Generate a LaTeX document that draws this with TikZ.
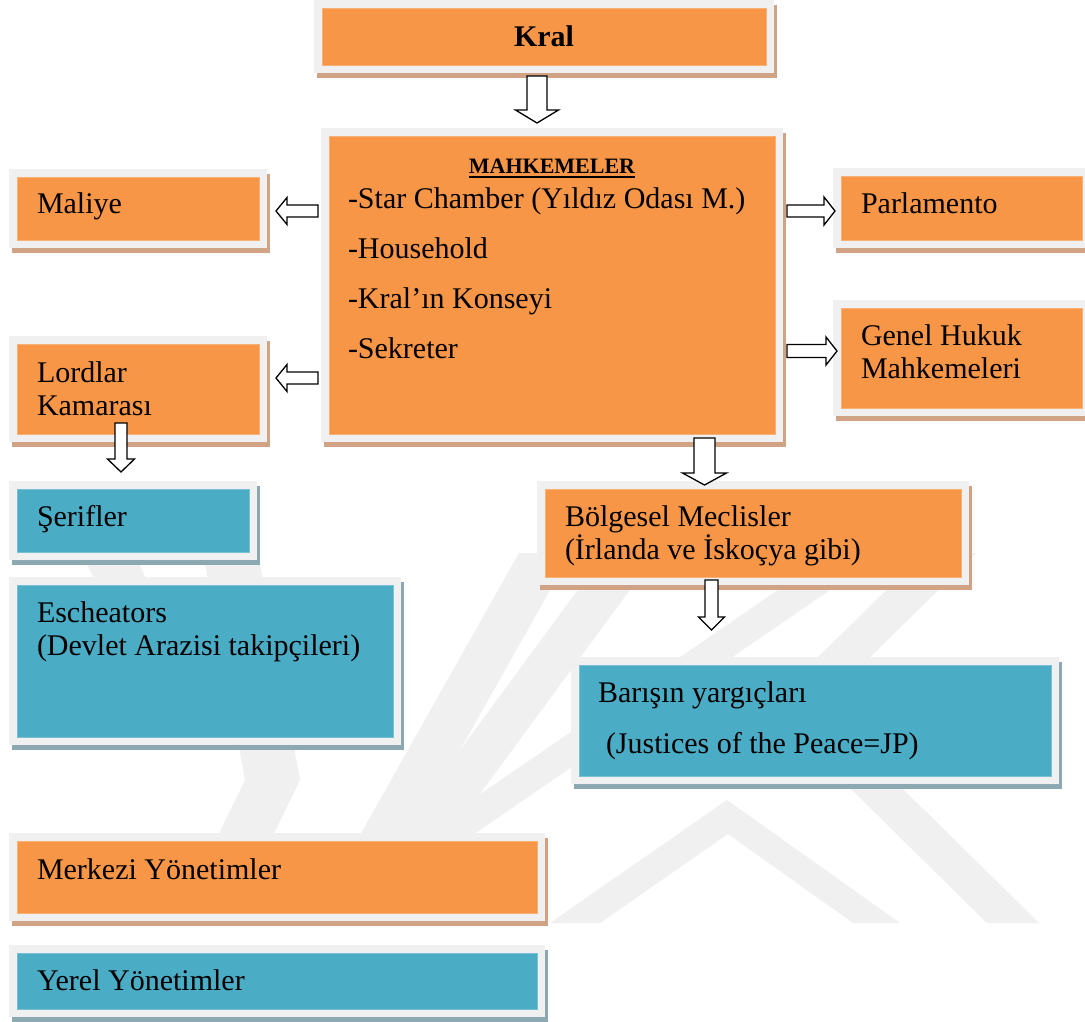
\documentclass[tikz,border=0pt]{standalone}
\usepackage{fontspec}
\setmainfont{Liberation Serif}
\usetikzlibrary{calc}
\definecolor{orfill}{HTML}{F79646}
\definecolor{blfill}{HTML}{4BACC6}
\definecolor{ringc}{HTML}{F0F0F0}
\definecolor{orshad}{HTML}{D0A384}
\definecolor{blshad}{HTML}{8CA8B1}
\definecolor{wmc}{HTML}{F0F0F0}
\newcommand\bxfont{\fontsize{30}{33}\selectfont}
\newcommand\wmband[4]{\fill[wmc] ({#1-26},#2) -- ({#1+26},#2) -- ({#3+26},#4) -- ({#3-26},#4) -- cycle;}
\tikzset{
  boxbase/.style={rectangle, inner sep=0pt, outer sep=0pt, line width=1pt},
  obox/.style={boxbase, fill=orfill, draw=orfill!75!white,
    preaction={fill=orshad, draw=orshad, line width=16pt, transform canvas={shift={(3pt,-5pt)}}},
    preaction={draw=ringc, line width=16pt}},
  bbox/.style={boxbase, fill=blfill, draw=blfill!75!white,
    preaction={fill=blshad, draw=blshad, line width=16pt, transform canvas={shift={(3pt,-5pt)}}},
    preaction={draw=ringc, line width=16pt}},
  txt/.style={inner sep=0pt, outer sep=0pt, anchor=base west, font=\bxfont, text=black},
  arr/.style={draw=black, fill=white, line width=1.3pt, line join=miter},
  blk/.style n args={3}{to path={
    let \p1=(\tikztostart), \p2=(\tikztotarget),
        \n1={atan2(\y2-\y1,\x2-\x1)}, \n2={veclen(\x2-\x1,\y2-\y1)} in
    ([shift={(\p1)},rotate=\n1]0pt,{-#1*1pt})
    -- ([shift={(\p1)},rotate=\n1]{\n2*1pt-#3*1pt},{-#1*1pt})
    -- ([shift={(\p1)},rotate=\n1]{\n2*1pt-#3*1pt},{-#2*1pt})
    -- ([shift={(\p1)},rotate=\n1]{\n2*1pt},0pt)
    -- ([shift={(\p1)},rotate=\n1]{\n2*1pt-#3*1pt},{#2*1pt})
    -- ([shift={(\p1)},rotate=\n1]{\n2*1pt-#3*1pt},{#1*1pt})
    -- ([shift={(\p1)},rotate=\n1]0pt,{#1*1pt})
    -- cycle}},
}
\begin{document}
\begin{tikzpicture}[x=1pt,y=-1pt]
\useasboundingbox (0,0) rectangle (1085,1021);
\fill[white] (0,0) rectangle (1085,1021);
% faint watermark
\begin{scope}
  \clip (0,553) rectangle (1085,923);
  \wmband{108}{553}{130}{600}
  \fill[wmc] (203,553) -- (258,553) -- (300,780) -- (266,850) -- (211,850) -- (245,780) -- cycle;
  \wmband{545}{553}{372}{860}
  \wmband{631}{553}{420}{840}
  \wmband{858}{553}{448}{834}
  \wmband{950}{553}{780}{720}
  \fill[wmc] (727,800) -- (900,923) -- (853,923) -- (728,834) -- (600,923) -- (550,923) -- cycle;
  \wmband{820}{733}{1013}{923}
\end{scope}
% boxes
\node[obox, minimum width=444pt, minimum height=57pt, font=\bxfont\bfseries] (kral) at (544,36.5) {Kral};
\node[obox, minimum width=446pt, minimum height=298pt] (mahk) at (552,285) {};
\node[obox, minimum width=242pt, minimum height=63pt] (maliye) at (138,208.5) {};
\node[obox, minimum width=242pt, minimum height=90pt] (lordlar) at (138,389) {};
\node[obox, minimum width=241pt, minimum height=64pt] (parl) at (961.5,208) {};
\node[obox, minimum width=241pt, minimum height=100pt] (genel) at (961.5,358) {};
\node[bbox, minimum width=232pt, minimum height=63pt] (serif) at (133,520.5) {};
\node[bbox, minimum width=376pt, minimum height=152pt] (esch) at (205,661) {};
\node[obox, minimum width=416pt, minimum height=88pt] (bolg) at (753,533) {};
\node[bbox, minimum width=472pt, minimum height=111pt] (baris) at (815,720.5) {};
\node[obox, minimum width=520pt, minimum height=72pt] (merk) at (277,877) {};
\node[bbox, minimum width=520pt, minimum height=56pt] (yerel) at (277,981) {};
% texts
\node[txt, anchor=base, font=\fontsize{22}{24}\selectfont\bfseries] (mahkhead) at (552,173)
  {\setbox0\hbox{MAHKEMELER}\rlap{\rule[-5pt]{\wd0}{1.8pt}}\box0};
\node[txt] (mahk1) at (348,208) {-Star Chamber (Yıldız Odası M.)};
\node[txt] (mahk2) at (348,258) {-Household};
\node[txt] (mahk3) at (348,308) {-Kral’ın Konseyi};
\node[txt] (mahk4) at (348,358) {-Sekreter};
\node[txt] (maliyet) at (37,213) {Maliye};
\node[txt] (lordlar1) at (37,382) {Lordlar};
\node[txt] (lordlar2) at (37,415) {Kamarası};
\node[txt] (parlt) at (861,213) {Parlamento};
\node[txt] (genel1) at (861,345) {Genel Hukuk};
\node[txt] (genel2) at (861,378) {Mahkemeleri};
\node[txt] (serift) at (37,526) {Şerifler};
\node[txt] (esch1) at (37,622) {Escheators};
\node[txt] (esch2) at (37,655) {(Devlet Arazisi takipçileri)};
\node[txt] (bolg1) at (565,526) {Bölgesel Meclisler};
\node[txt] (bolg2) at (565,559) {(İrlanda ve İskoçya gibi)};
\node[txt] (baris1) at (598,702) {Barışın yargıçları};
\node[txt] (baris2) at (606,753) {(Justices of the Peace=JP)};
\node[txt] (merkt) at (37,879) {Merkezi Yönetimler};
\node[txt] (yerelt) at (37,990) {Yerel Yönetimler};
% block arrows
\path[arr] ([shift={(-7,11)}]kral.south) to[blk={10}{21.5}{13}] ([shift={(-15,-13)}]mahk.north);
\path[arr] ([shift={(-11,-74)}]mahk.west) to[blk={6}{13.5}{11}] ([shift={(17,2.5)}]maliye.east);
\path[arr] ([shift={(-11,93)}]mahk.west) to[blk={6}{13.5}{11}] ([shift={(17,-11)}]lordlar.east);
\path[arr] ([shift={(12,-74)}]mahk.east) to[blk={6}{14}{11}] ([shift={(-6,3)}]parl.west);
\path[arr] ([shift={(12,66)}]mahk.east) to[blk={6.5}{14}{11}] ([shift={(-4,-7)}]genel.west);
\path[arr] ([shift={(-17,-11)}]lordlar.south) to[blk={6}{13.5}{13}] ([shift={(-12,-17)}]serif.north);
\path[arr] ([shift={(152.5,4)}]mahk.south) to[blk={10.5}{22}{12}] ([shift={(-48.5,-4)}]bolg.north);
\path[arr] ([shift={(-41.5,3)}]bolg.south) to[blk={6.5}{13}{13}] ([shift={(-103.5,-35)}]baris.north);
\end{tikzpicture}
\end{document}
